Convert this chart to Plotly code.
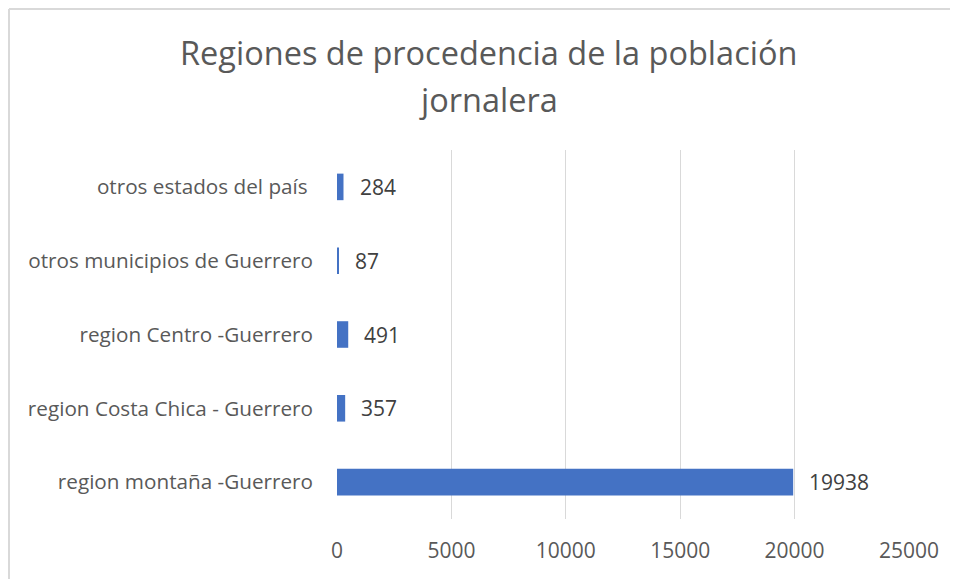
import plotly.graph_objects as go

regiones = [
    "region montaña -Guerrero",
    "region Costa Chica - Guerrero",
    "region Centro -Guerrero",
    "otros municipios de Guerrero",
    "otros estados del país ",
]
poblacion = [19938, 357, 491, 87, 284]
x_ticks = [0, 5000, 10000, 15000, 20000, 25000]
titulo = ["Regiones de procedencia de la población", "jornalera"]

bar_color = "#4472C4"
text_color = "#595959"
border_color = "#d9d9d9"
font_family = "Open Sans"

# plot area in figure pixels: x 329..901, y 142..511
L, T = 329, 142
plot_w, plot_h = 572.0, 369.0


def px_x(p):
    return (p - L) / plot_w


def px_y(p):
    return 1 + (T - p) / plot_h


fig = go.Figure()
fig.add_trace(go.Bar(
    y=regiones,
    x=poblacion,
    orientation="h",
    marker=dict(color=bar_color, line=dict(width=0)),
    width=0.36,
    hoverinfo="x+y",
))

# etiquetas de datos a la derecha de cada barra
for reg, val in zip(regiones, poblacion):
    fig.add_annotation(
        x=val, y=reg, text=str(val),
        xanchor="left", showarrow=False, xshift=14,
        font=dict(family=font_family, size=21, color="#404040"),
    )

# titulo en dos lineas
for linea, py in zip(titulo, [44, 92]):
    fig.add_annotation(
        x=px_x(480), xref="paper", xanchor="center",
        y=px_y(py), yref="paper", yanchor="middle",
        text=linea, showarrow=False,
        font=dict(family=font_family, size=32.5, color=text_color),
    )

fig.update_layout(
    width=950, height=571,
    paper_bgcolor="white", plot_bgcolor="white",
    margin=dict(l=L, r=49, t=T, b=60, autoexpand=False),
    showlegend=False,
    bargap=0.64,
    font=dict(family=font_family, color=text_color),
    shapes=[
        # borde del area del grafico (arriba e izquierda)
        dict(type="line", xref="paper", yref="paper",
             x0=px_x(1), x1=px_x(950), y0=px_y(1), y1=px_y(1),
             line=dict(color=border_color, width=2)),
        dict(type="line", xref="paper", yref="paper",
             x0=px_x(1), x1=px_x(1), y0=px_y(1), y1=px_y(571),
             line=dict(color=border_color, width=2)),
    ],
)
fig.update_xaxes(
    range=[0, 25000], tickvals=x_ticks, ticktext=[str(v) for v in x_ticks],
    showgrid=True, gridcolor=border_color, gridwidth=1.3,
    zeroline=False, showline=False, automargin=False,
    tickfont=dict(family=font_family, size=21, color=text_color),
    ticklabelstandoff=17,
)
fig.update_yaxes(
    showgrid=False, zeroline=False, showline=False, automargin=False,
    tickfont=dict(family=font_family, size=20.7, color=text_color),
    ticklabelstandoff=23,
)

fig.write_html("out.html")
